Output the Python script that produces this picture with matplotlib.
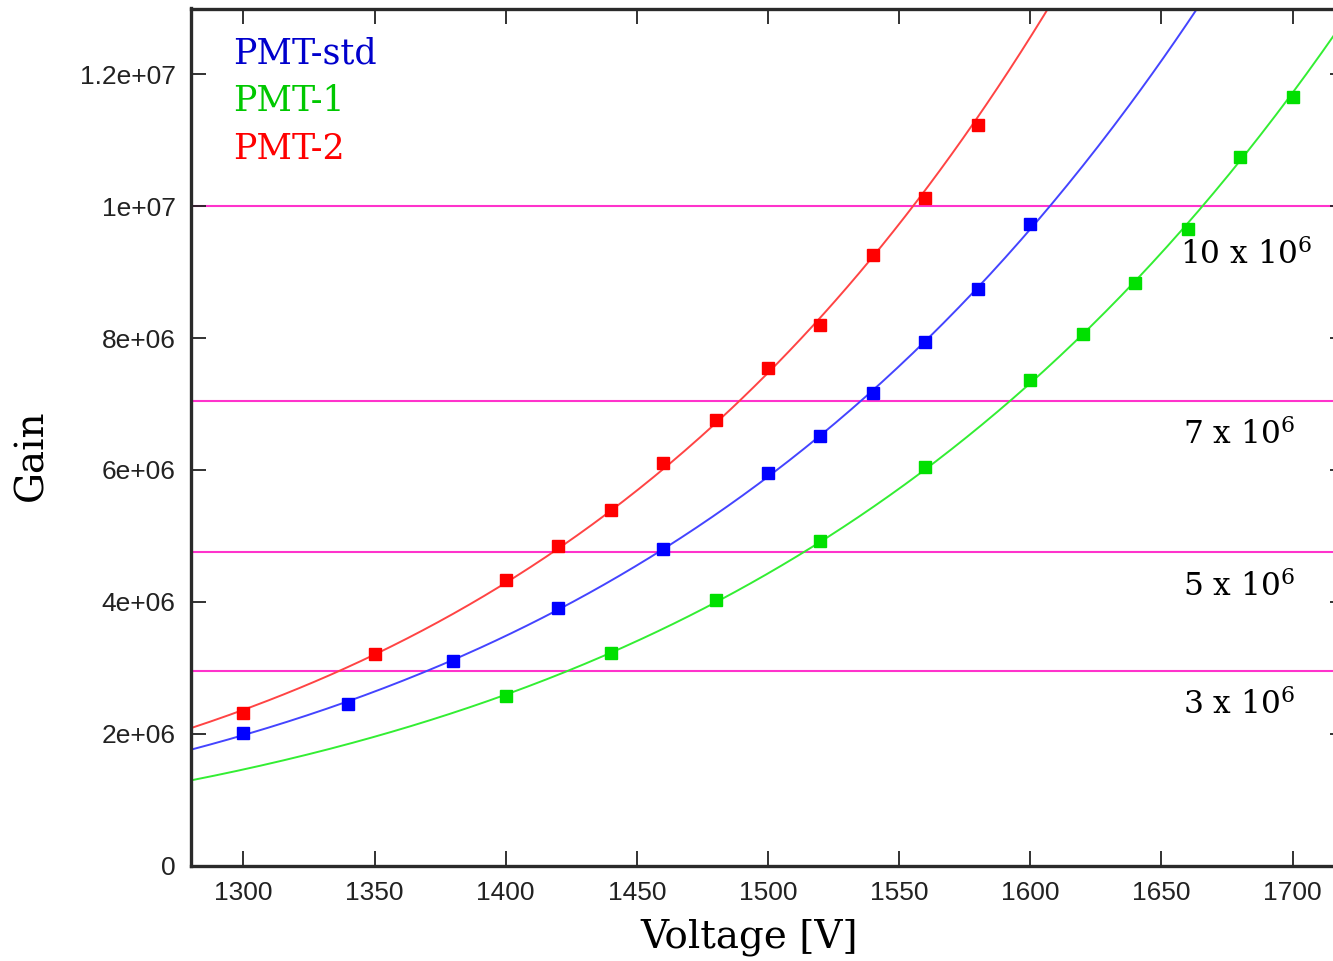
import numpy as np
import matplotlib
matplotlib.use("Agg")
import matplotlib.pyplot as plt
from matplotlib.ticker import FuncFormatter, MultipleLocator

plt.rcParams['mathtext.fontset'] = 'dejavuserif'

# measured gain vs voltage
v_std = [1300, 1340, 1380, 1420, 1460, 1500, 1520, 1540, 1560, 1580, 1600]
g_std = [2.01e6, 2.45e6, 3.10e6, 3.90e6, 4.80e6, 5.95e6, 6.51e6, 7.16e6, 7.94e6, 8.74e6, 9.73e6]

v_1 = [1400, 1440, 1480, 1520, 1560, 1600, 1620, 1640, 1660, 1680, 1700]
g_1 = [2.57e6, 3.22e6, 4.02e6, 4.92e6, 6.05e6, 7.37e6, 8.06e6, 8.84e6, 9.65e6, 10.74e6, 11.66e6]

v_2 = [1300, 1350, 1400, 1420, 1440, 1460, 1480, 1500, 1520, 1540, 1560, 1580]
g_2 = [2.31e6, 3.21e6, 4.33e6, 4.84e6, 5.40e6, 6.10e6, 6.76e6, 7.55e6, 8.20e6, 9.26e6, 10.12e6, 11.24e6]

# reference gain levels
levels = [10.0e6, 7.05e6, 4.76e6, 2.945e6]
level_labels = [r'10 x 10$^6$', r'7 x 10$^6$', r'5 x 10$^6$', r'3 x 10$^6$']

series = [
    ('PMT-std', v_std, g_std, '#0000ff', '#4444ff', '#0000cc'),
    ('PMT-1', v_1, g_1, '#00e000', '#33ee33', '#00c800'),
    ('PMT-2', v_2, g_2, '#ff0000', '#ff4444', '#ff0000'),
]

fig = plt.figure(figsize=(13.33, 9.61), dpi=100)
ax = fig.add_axes([191/1333, 95.5/961, 1154/1333, 857/961])

xfit = np.linspace(1280, 1720, 300)
for name, v, g, mc, lc, tc in series:
    # power law fit G = a * V^b
    b, a = np.polyfit(np.log(v), np.log(g), 1)
    ax.plot(xfit, np.exp(a) * xfit**b, color=lc, lw=1.4, zorder=2)
    ax.plot(v, g, 's', color=mc, ms=8.5, mec=mc, zorder=3)

for lv in levels:
    ax.axhline(lv, color='#ff33cc', lw=1.5, zorder=1)

ax.set_xlim(1280, 1720)
ax.set_ylim(0, 1.3e7)
ax.xaxis.set_major_locator(MultipleLocator(50))
ax.yaxis.set_major_locator(MultipleLocator(2e6))
ax.yaxis.set_major_formatter(FuncFormatter(lambda y, p: '%g' % y))

ax.tick_params(direction='in', length=11, width=1.3, top=True, right=True,
               labelsize=19, pad=11, colors='#222222')
for lab in ax.get_xticklabels() + ax.get_yticklabels():
    lab.set_family('Liberation Sans')
for s in ax.spines.values():
    s.set_linewidth(2.4)
    s.set_color('#2a2a2a')

ax.set_xlabel('Voltage [V]', family='DejaVu Serif', fontsize=28)
ax.set_ylabel('Gain', family='DejaVu Serif', fontsize=28)
ax.xaxis.set_label_coords((749 - 191) / 1154, -(937 - 865.5) / 857)
ax.yaxis.set_label_coords((32 - 191) / 1154, (865.5 - 455) / 857)
ax.xaxis.label.set_va('center')
ax.yaxis.label.set_va('center')

# legend as coloured text
for i, (name, v, g, mc, lc, tc) in enumerate(series):
    fig.text(233/1333, 1 - (53 + 48*i)/961, name, color=tc, family='DejaVu Serif',
             fontsize=25, va='center', ha='left')

label_y = [255, 435, 587, 705]
label_x = [1180, 1183, 1183, 1183]
for lx, ly, t in zip(label_x, label_y, level_labels):
    fig.text(lx/1333, 1 - ly/961, t, color='black', family='DejaVu Serif',
             fontsize=22.5, va='center', ha='left')

fig.savefig('out.png', dpi=100)
